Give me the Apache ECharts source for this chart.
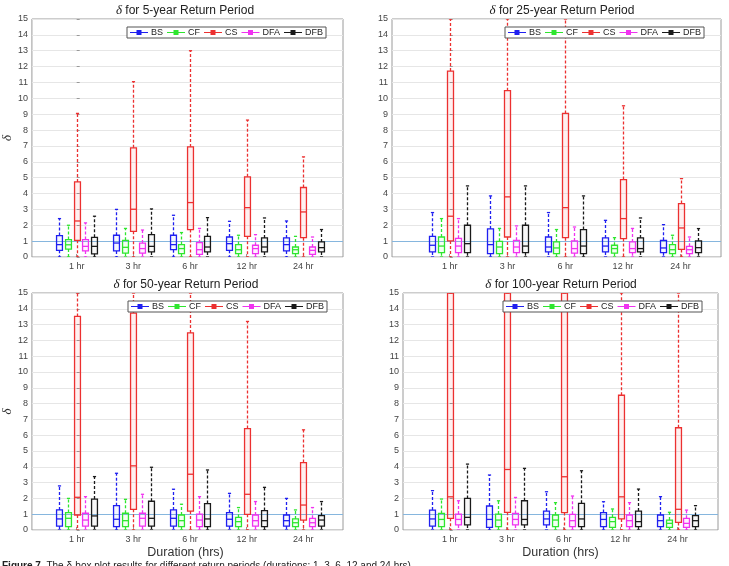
<!DOCTYPE html>
<html><head><meta charset="utf-8">
<script src="https://cdn.jsdelivr.net/npm/echarts@6/dist/echarts.min.js"></script>
<style>html,body{margin:0;padding:0;background:#fff}#c{width:729px;height:566px}</style>
</head><body><div id="c"></div>
<script>
// ---- data ----
const durations = ['1 hr', '3 hr', '6 hr', '12 hr', '24 hr'];
const methods = ['BS', 'CF', 'CS', 'DFA', 'DFB'];
const panelTitles = ['5-year', '25-year', '50-year', '100-year'];
// each row: [min, q1, median, q3, max] for 1, 3, 6, 12, 24 hr
const rp5_BS  = [[0,0.42,0.78,1.35,2.42],[0,0.38,0.88,1.37,3.00],[0,0.46,0.78,1.37,2.63],[0,0.42,0.84,1.26,2.25],[0,0.38,0.78,1.20,2.27]];
const rp5_CF  = [[0,0.50,0.77,1.10,2.00],[0,0.25,0.61,1.05,1.80],[0,0.21,0.53,0.78,1.54],[0,0.21,0.46,0.78,1.37],[0,0.21,0.46,0.63,1.30]];
const rp5_CS  = [[0,1.05,2.27,4.73,9.05],[0,1.62,3.01,6.88,11.05],[0,1.73,3.43,6.94,13.00],[0,1.30,3.11,5.05,8.63],[0,1.22,2.84,4.38,6.31]];
const rp5_DFA = [[0,0.38,0.67,1.10,2.15],[0,0.25,0.53,0.88,1.70],[0,0.17,0.46,0.90,1.80],[0,0.21,0.53,0.74,1.41],[0,0.17,0.42,0.63,1.26]];
const rp5_DFB = [[0,0.20,0.67,1.24,2.57],[0,0.32,0.67,1.41,3.03],[0,0.32,0.63,1.30,2.48],[0,0.32,0.63,1.20,2.46],[0,0.32,0.59,0.95,1.73]];

const rp25_BS  = [[0,0.32,0.74,1.30,2.80],[0,0.21,0.78,1.77,3.85],[0,0.32,0.63,1.26,2.80],[0,0.32,0.69,1.20,2.31],[0,0.27,0.57,1.05,2.04]];
const rp25_CF  = [[0,0.27,0.69,1.26,2.42],[0,0.21,0.63,0.99,1.80],[0,0.21,0.57,0.95,1.73],[0,0.25,0.53,0.74,1.22],[0,0.21,0.46,0.78,1.37]];
const rp25_CS  = [[0,1.01,2.57,11.72,15],[0,1.26,3.79,10.48,15],[0,1.22,3.11,9.05,15],[0,1.16,2.42,4.88,9.53],[0,0.48,1.83,3.37,4.94]];
const rp25_DFA = [[0,0.27,0.69,1.18,2.42],[0,0.27,0.63,1.05,1.96],[0,0.25,0.53,1.01,1.89],[0,0.27,0.53,0.95,1.80],[0,0.21,0.46,0.67,1.26]];
const rp25_DFB = [[0,0.27,0.84,2.00,4.48],[0,0.27,0.69,2.00,4.48],[0,0.21,0.69,1.73,3.85],[0,0.32,0.53,1.20,2.46],[0,0.27,0.59,1.01,1.79]];

const rp50_BS  = [[0,0.25,0.70,1.27,2.79],[0,0.21,0.68,1.54,3.59],[0,0.25,0.74,1.27,2.58],[0,0.25,0.68,1.10,2.32],[0,0.25,0.59,0.95,2.00]];
const rp50_CF  = [[0,0.21,0.74,1.10,2.00],[0,0.21,0.59,1.06,1.94],[0,0.21,0.59,0.95,1.63],[0,0.21,0.53,0.80,1.42],[0,0.21,0.46,0.70,1.27]];
const rp50_CS  = [[0,0.95,2.07,13.52,15],[0,1.31,4.06,13.73,15],[0,1.20,3.53,12.47,15],[0,0.99,2.26,6.42,13.20],[0,0.63,1.58,4.27,6.34]];
const rp50_DFA = [[0,0.25,0.63,1.06,2.11],[0,0.25,0.74,1.06,2.26],[0,0.21,0.63,1.01,2.11],[0,0.25,0.59,0.95,1.80],[0,0.21,0.46,0.74,1.42]];
const rp50_DFB = [[0,0.25,0.89,1.96,3.38],[0,0.25,0.74,1.82,3.97],[0,0.21,0.70,1.67,3.80],[0,0.21,0.59,1.23,2.70],[0,0.25,0.63,0.91,1.80]];

const rp100_BS  = [[0,0.25,0.70,1.26,2.49],[0,0.17,0.67,1.52,3.48],[0,0.32,0.70,1.20,2.42],[0,0.21,0.67,1.10,1.79],[0,0.21,0.59,0.95,2.11]];
const rp100_CF  = [[0,0.21,0.67,1.05,1.96],[0,0.21,0.63,1.01,1.85],[0,0.21,0.63,0.95,1.73],[0,0.17,0.53,0.80,1.33],[0,0.17,0.42,0.63,1.12]];
const rp100_CS  = [[0,0.74,2.10,15,15],[0,1.12,3.83,15,15],[0,1.10,3.37,15,15],[0,0.70,2.10,8.53,15],[0,0.48,1.31,6.47,15]];
const rp100_DFA = [[0,0.32,0.67,1.01,1.85],[0,0.32,0.67,1.05,2.06],[0,0.21,0.59,0.99,2.15],[0,0.21,0.59,0.95,1.73],[0,0.17,0.42,0.74,1.26]];
const rp100_DFB = [[0,0.32,0.80,2.00,4.17],[0,0.32,0.67,1.85,3.90],[0,0.21,0.70,1.69,3.75],[0,0.21,0.53,1.20,2.59],[0,0.21,0.59,0.91,1.54]];

const yMin = 0, yMax = 15, yStep = 1;
const refLine = 1;

// ---- style ----
const panels = [
  [rp5_BS, rp5_CF, rp5_CS, rp5_DFA, rp5_DFB],
  [rp25_BS, rp25_CF, rp25_CS, rp25_DFA, rp25_DFB],
  [rp50_BS, rp50_CF, rp50_CS, rp50_DFA, rp50_DFB],
  [rp100_BS, rp100_CF, rp100_CS, rp100_DFA, rp100_DFB]
];
const colors = ['#1f1ff0', '#2ee62e', '#ec3030', '#f032f0', '#1a1a1a'];
const tints = ['rgba(0,0,255,0.04)', 'rgba(0,255,0,0.05)', 'rgba(255,0,0,0.06)', 'rgba(255,0,255,0.05)', 'rgba(0,0,0,0.03)'];
const grids = [
  {left: 28, top: 19, width: 315, height: 238, xr: [-0.79, 4.70], tx: 185, ty: 11, leg: 127},
  {left: 392, top: 19, width: 329, height: 238, xr: [-1.00, 4.70], tx: 562, ty: 11, leg: 505},
  {left: 28, top: 293, width: 315, height: 237, xr: [-0.79, 4.70], tx: 186, ty: 285, leg: 128},
  {left: 403, top: 293, width: 315, height: 237, xr: [-0.82, 4.71], tx: 561, ty: 285, leg: 503}
];
const FONT = 'Liberation Sans, Arial, Helvetica, sans-serif';

function makeRenderer(m) {
  return function (params, api) {
    const cat = api.value(0);
    const unit = api.size([1, 0])[0];
    const off = (m - 2) * 0.152 * unit;
    const hw = 0.052 * unit;
    const cw = 0.028 * unit;
    const x = Math.round(api.coord([cat, 0])[0] + off) + 0.5;
    const yy = (v) => api.coord([cat, v])[1];
    const pMin = yy(api.value(1)), pQ1 = yy(api.value(2)), pMed = yy(api.value(3)),
          pQ3 = yy(api.value(4)), pMax = yy(api.value(5));
    const c = colors[m];
    const dash = {stroke: c, lineWidth: 1.3, lineDash: [3, 2], fill: null};
    const solid = {stroke: c, lineWidth: 1.3, fill: null};
    return {type: 'group', children: [
      {type: 'line', shape: {x1: x, y1: pQ3, x2: x, y2: pMax}, style: dash},
      {type: 'line', shape: {x1: x, y1: pQ1, x2: x, y2: pMin}, style: dash},
      {type: 'line', shape: {x1: x - cw, y1: pMax, x2: x + cw, y2: pMax}, style: solid},
      {type: 'line', shape: {x1: x - cw, y1: pMin, x2: x + cw, y2: pMin}, style: solid},
      {type: 'rect', shape: {x: x - hw, y: pQ3, width: 2 * hw, height: pQ1 - pQ3}, style: {fill: tints[m], stroke: c, lineWidth: 1.3}},
      {type: 'line', shape: {x1: x - hw, y1: pMed, x2: x + hw, y2: pMed}, style: solid}
    ]};
  };
}

const option = {
  animation: false,
  backgroundColor: '#fff',
  grid: [], xAxis: [], yAxis: [], series: [], legend: [], graphic: []
};
const iconPath = 'path://M0,3.4H18V4.6H0Z M6.5,1.5H11.5V6.5H6.5Z';

grids.forEach((g, p) => {
  option.grid.push({left: g.left, top: g.top, width: g.width, height: g.height,
    show: true, borderColor: '#9a9a9a', borderWidth: 1, backgroundColor: '#fff', containLabel: false});
  option.xAxis.push({
    type: 'value', gridIndex: p, min: g.xr[0], max: g.xr[1],
    axisLine: {show: false}, splitLine: {show: false},
    axisTick: {show: true, inside: true, length: 3, lineStyle: {color: '#999'}, customValues: durations.map((d, i) => i)},
    axisLabel: {show: true, customValues: durations.map((d, i) => i), formatter: (v) => durations[Math.round(v)] || '',
      fontSize: 9, color: '#444', fontFamily: FONT, margin: 5}
  });
  option.yAxis.push({
    type: 'value', gridIndex: p, min: yMin, max: yMax, interval: yStep,
    axisLine: {show: false},
    axisTick: {show: true, inside: true, length: 3, lineStyle: {color: '#999'}},
    splitLine: {show: true, lineStyle: {color: '#e6e6e6', width: 1}},
    axisLabel: {fontSize: 9, color: '#444', fontFamily: FONT, margin: 4},
    name: (p % 2 === 0) ? 'δ' : '', nameLocation: 'middle', nameGap: 15, nameRotate: 90,
    nameTextStyle: {fontSize: 13, fontStyle: 'italic', fontFamily: 'Liberation Serif, Times New Roman, serif', color: '#333'}
  });
  methods.forEach((name, m) => {
    const s = {
      type: 'custom', name: name, xAxisIndex: p, yAxisIndex: p,
      renderItem: makeRenderer(m), clip: true,
      itemStyle: {color: colors[m]},
      encode: {x: 0, y: [1, 2, 3, 4, 5]},
      data: panels[p][m].map((r, i) => [i].concat(r)),
      z: 3
    };
    if (m === 0) {
      s.markLine = {silent: true, symbol: 'none', label: {show: false}, z: 2,
        lineStyle: {color: '#86b6de', type: 'solid', width: 1}, data: [{yAxis: refLine}]};
    }
    option.series.push(s);
  });
  option.legend.push({
    left: g.leg, top: g.top + 8, orient: 'horizontal', itemWidth: 18, itemHeight: 8, itemGap: 4,
    icon: iconPath, padding: [1, 3], borderColor: '#555', borderWidth: 1, backgroundColor: '#fff',
    textStyle: {fontSize: 9, color: '#222', fontFamily: FONT, padding: [0, 0, 0, -2]},
    data: methods, selectedMode: false
  });
  option.graphic.push({type: 'text', x: g.tx, y: g.ty, z: 10,
    style: {text: '{i|δ} for ' + panelTitles[p] + ' Return Period', align: 'center', verticalAlign: 'middle',
      fontSize: 12, fontFamily: FONT, fill: '#222',
      rich: {i: {fontStyle: 'italic', fontFamily: 'Liberation Serif, Times New Roman, serif', fontSize: 13, fill: '#222'}}}});
  if (p >= 2) {
    option.graphic.push({type: 'text', x: g.left + g.width / 2, y: 553, z: 10,
      style: {text: 'Duration (hrs)', align: 'center', verticalAlign: 'middle', fontSize: 12.5, fontFamily: FONT, fill: '#333'}});
  }
});
option.graphic.push({type: 'text', x: 2, y: 561, z: 10,
  style: {text: '{b|Figure 7.} The δ-box plot results for different return periods (durations: 1, 3, 6, 12 and 24 hrs).',
    align: 'left', verticalAlign: 'top', fontSize: 10, fontFamily: FONT, fill: '#222',
    rich: {b: {fontWeight: 'bold', fontSize: 10, fontFamily: FONT, fill: '#222'}}}});

const chart = echarts.init(document.getElementById('c'), null, {renderer: 'canvas'});
chart.setOption(option);
</script></body></html>
